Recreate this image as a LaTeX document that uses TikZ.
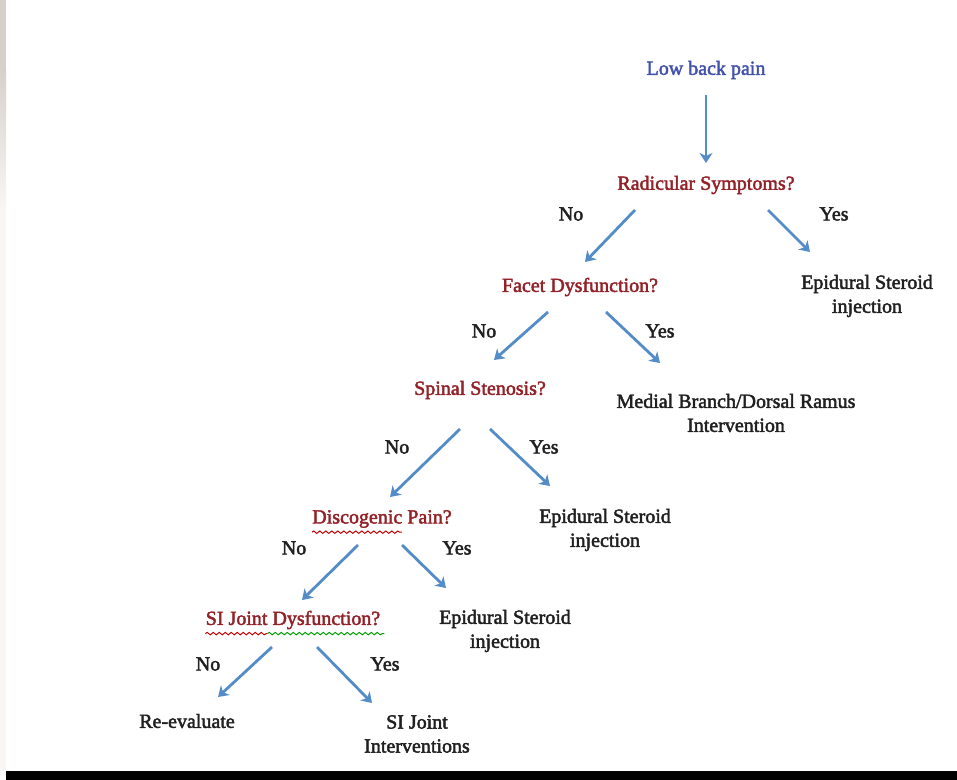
\documentclass[tikz,border=0pt]{standalone}
\usepackage{fontspec}
\setmainfont{Liberation Serif}
\newfontfamily\chartfont[FakeBold=2.2]{Liberation Serif}
\usetikzlibrary{arrows.meta,decorations.pathmorphing}
\definecolor{lbpblue}{RGB}{66,82,172}
\definecolor{qred}{RGB}{146,34,40}
\definecolor{txk}{RGB}{32,32,32}
\definecolor{arb}{RGB}{84,140,200}
\definecolor{stripg}{RGB}{214,208,203}
\definecolor{stripl}{RGB}{249,247,244}
\colorlet{sqr}{red!75!black}
\colorlet{sqg}{green!60!black}
\tikzset{
    start/.style={lbpblue,inner sep=0pt,font=\chartfont\fontsize{10}{12}\selectfont},
    quest/.style={qred,inner sep=0pt,font=\chartfont\fontsize{10}{12}\selectfont},
    outc/.style={txk,inner sep=0pt,align=center,font=\chartfont\fontsize{10}{12}\selectfont},
    ans/.style={txk,inner sep=0pt,font=\chartfont\fontsize{10}{12}\selectfont},
    arr/.style={arb,line width=1.4pt,-{Stealth[length=5pt,width=6.5pt,inset=1.5pt]}},
    squig/.style={line width=0.5pt,decorate,decoration={snake,segment length=3,amplitude=0.6}}
}

\begin{document}
\begin{tikzpicture}[x=0.5pt,y=-0.5pt]
            \useasboundingbox (0,0) rectangle (957,780);
            \fill [stripl] (0,0) rectangle (6,771);
            \fill [stripg] (0,0) rectangle (6,70);
            \shade [top color=stripg,bottom color=stripl] (0,70) rectangle (6,210);
            \fill [black] (6,771) rectangle (957,780);
            \node [start] (lbp) at (706,70) {Low back pain};
            \node [quest] (rad) at (706,185) {Radicular Symptoms?};
            \node [quest] (facet) at (580,287) {Facet Dysfunction?};
            \node [quest] (spinal) at (480,390) {Spinal Stenosis?};
            \node [quest] (disc) at (382,519) {Discogenic Pain?};
            \node [quest] (si) at (293,620) {SI Joint Dysfunction?};
            \node [outc] (epi1) at (867,296) {Epidural Steroid\\injection};
            \node [outc] (mbb) at (736,413) {Medial Branch/Dorsal Ramus\\Intervention};
            \node [outc] (epi2) at (605,530) {Epidural Steroid\\injection};
            \node [outc] (epi3) at (505,631) {Epidural Steroid\\injection};
            \node [outc] (reeval) at (187,721) {Re-evaluate};
            \node [outc] (sij) at (417,734) {SI Joint\\Interventions};
            \foreach \x/\y/\t [count=\i] in {571/214/No,834/214/Yes,484/331/No,660/331/Yes,
                    397/447/No,544/447/Yes,294/548/No,457/548/Yes,208/664/No,385/664/Yes} {
                \node [ans] (a\i) at (\x,\y) {\t};
            }
            \draw [arr] ([shift={(0,25)}]lbp.center) -- ([shift={(0,-22)}]rad.center);
            \draw [arr] ([shift={(-71,25)}]rad.center) -- ([shift={(5,-25)}]facet.center);
            \draw [arr] ([shift={(62,25)}]rad.center) -- ([shift={(-57,-44)}]epi1.center);
            \draw [arr] ([shift={(-32,25)}]facet.center) -- ([shift={(14,-30)}]spinal.center);
            \draw [arr] ([shift={(26,25)}]facet.center) -- ([shift={(-76,-50)}]mbb.center);
            \draw [arr] ([shift={(-20,39)}]spinal.center) -- ([shift={(8,-22)}]disc.center);
            \draw [arr] ([shift={(10,39)}]spinal.center) -- ([shift={(-55,-44)}]epi2.center);
            \draw [arr] ([shift={(-24,26)}]disc.center) -- ([shift={(9,-20)}]si.center);
            \draw [arr] ([shift={(20,26)}]disc.center) -- ([shift={(-59,-43)}]epi3.center);
            \draw [arr] ([shift={(-21,27)}]si.center) -- ([shift={(31,-24)}]reeval.center);
            \draw [arr] ([shift={(24,27)}]si.center) -- ([shift={(-45,-31)}]sij.center);
            \draw [squig,sqr] ([shift={(0,4)}]disc.south west) -- ++(90,0);
            \draw [squig,sqr] ([shift={(0,4)}]si.south west) -- ++(62,0);
            \draw [squig,sqg] ([shift={(62,4)}]si.south west) -- ++(117,0);
        \end{tikzpicture}
\end{document}
